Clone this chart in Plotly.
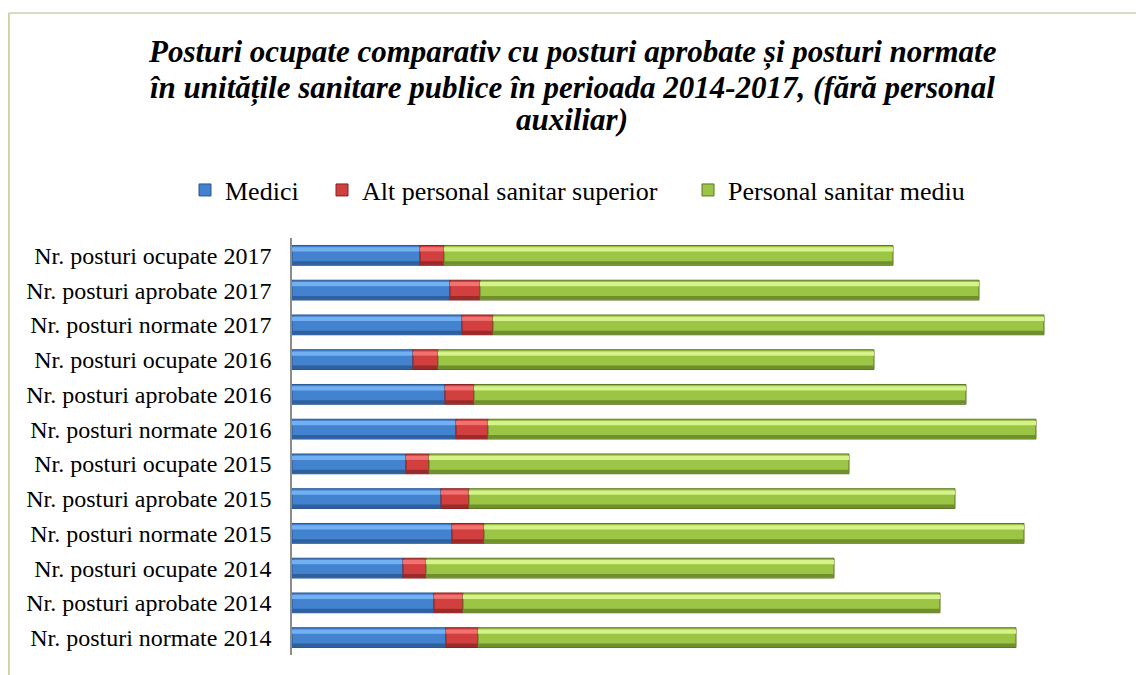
import plotly.graph_objects as go

categories = [
    "Nr. posturi ocupate 2017", "Nr. posturi aprobate 2017", "Nr. posturi normate 2017",
    "Nr. posturi ocupate 2016", "Nr. posturi aprobate 2016", "Nr. posturi normate 2016",
    "Nr. posturi ocupate 2015", "Nr. posturi aprobate 2015", "Nr. posturi normate 2015",
    "Nr. posturi ocupate 2014", "Nr. posturi aprobate 2014", "Nr. posturi normate 2014",
]
medici = [25600, 31600, 34000, 24200, 30600, 32800, 22800, 29800, 32000, 22200, 28400, 30800]
alt_superior = [4800, 6000, 6200, 5000, 5800, 6400, 4600, 5600, 6400, 4600, 5800, 6400]
sanitar_mediu = [89800, 99800, 110200, 87200, 98400, 109600, 84000, 97200, 108000, 81600, 95400, 107600]

# stacking bases derived from the data
base_medici = [0] * len(medici)
base_alt = list(medici)
base_mediu = [m + a for m, a in zip(medici, alt_superior)]

# name, values, base, main colour, highlight colour, shade colour, outline, legend id
series = [
    ("Medici", medici, base_medici, "#4282cf", "#72b0f2", "#2f609e", "#2a5590", "legend"),
    ("Alt personal sanitar superior", alt_superior, base_alt, "#d23f3f", "#f27272", "#992a2a", "#842222", "legend2"),
    ("Personal sanitar mediu", sanitar_mediu, base_mediu, "#9cc445", "#d6f28a", "#6f8f2e", "#5a7524", "legend3"),
]

SERIF = "Liberation Serif"
BAR_W = 0.57

fig = go.Figure()
for name, vals, base, col, hi, sh, line, leg in series:
    fig.add_trace(go.Bar(
        y=categories, x=vals, base=base, name=name, orientation="h",
        width=BAR_W, offset=-BAR_W / 2, legend=leg,
        marker=dict(color=col, line=dict(color=line, width=1)),
    ))
    fig.add_trace(go.Bar(
        y=categories, x=vals, base=base, orientation="h", showlegend=False,
        hoverinfo="skip", width=0.12, offset=-0.235,
        marker=dict(color=hi, line=dict(width=0)),
    ))
    fig.add_trace(go.Bar(
        y=categories, x=vals, base=base, orientation="h", showlegend=False,
        hoverinfo="skip", width=0.1, offset=0.17,
        marker=dict(color=sh, line=dict(width=0)),
    ))

# Figure is offset 8px by the page body margin; coordinates compensate for it.
W, H = 1136, 667
title_lines = [
    "Posturi ocupate comparativ cu posturi aprobate și posturi normate",
    "în unitățile sanitare publice în perioada 2014-2017, (fără personal",
    "auxiliar)",
]
title_y = [1.446, 1.360, 1.283]
annotations = [
    dict(text=f"<b><i>{t}</i></b>", xref="paper", yref="paper", x=0.35, y=yy,
         xanchor="center", yanchor="middle", showarrow=False,
         font=dict(size=31, family=SERIF, color="black"))
    for t, yy in zip(title_lines, title_y)
]

def legend_at(x):
    return dict(orientation="h", x=x, xanchor="left", y=1.115, yanchor="middle",
                font=dict(size=26, family=SERIF, color="black"),
                bgcolor="rgba(0,0,0,0)")

fig.update_layout(
    barmode="overlay",
    width=W, height=H,
    paper_bgcolor="white", plot_bgcolor="white",
    margin=dict(l=284, r=52, t=230, b=20, autoexpand=False),
    font=dict(family=SERIF, color="black"),
    annotations=annotations,
    legend=legend_at(-0.13375),
    legend2=legend_at(0.0375),
    legend3=legend_at(0.495),
    xaxis=dict(range=[0, 160000], visible=False),
    yaxis=dict(
        autorange="reversed", showline=True, linecolor="#8c8c8c", linewidth=1.5,
        ticks="", showgrid=False, tickfont=dict(size=24, family=SERIF),
        ticklabelstandoff=14, automargin=False,
    ),
    shapes=[
        dict(type="line", xref="paper", yref="paper", x0=-0.354, x1=1.08,
             y0=1.5396, y1=1.5396, line=dict(color="#c9d3a3", width=1.5)),
        dict(type="line", xref="paper", yref="paper", x0=-0.354, x1=-0.354,
             y0=1.5396, y1=-0.06, line=dict(color="#c9d3a3", width=2)),
    ],
)

fig.write_html("out.html")
